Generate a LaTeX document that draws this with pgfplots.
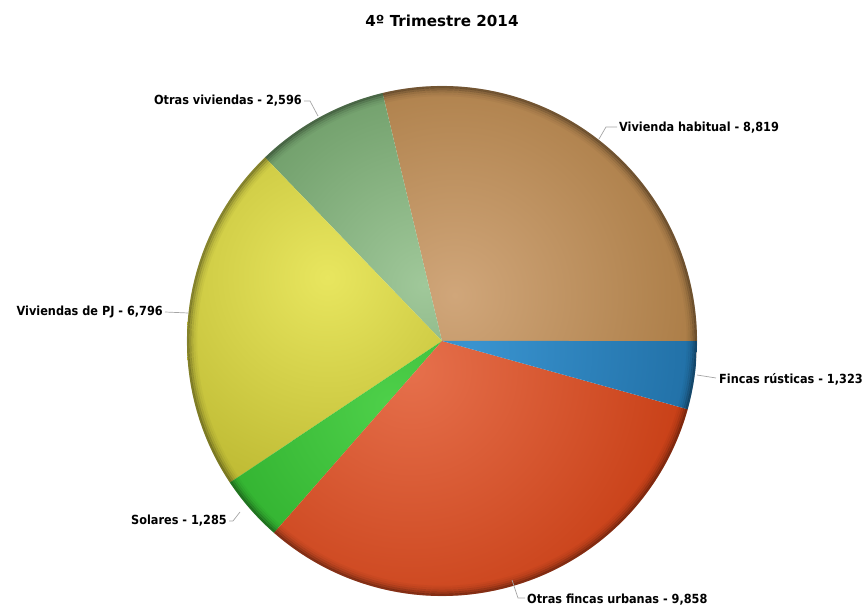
\documentclass[border=0pt]{standalone}
\usepackage{pgfplots}
\pgfplotsset{compat=1.18}
\usepackage{fontspec}
\setmainfont{DejaVu Sans}
\newfontfamily\lab{DejaVu Sans Condensed}
\definecolor{brL}{RGB}{208,166,122}
\definecolor{brD}{RGB}{158,110,52}
\definecolor{ggL}{RGB}{160,200,154}
\definecolor{ggD}{RGB}{84,134,78}
\definecolor{yeL}{RGB}{232,230,95}
\definecolor{yeD}{RGB}{170,165,30}
\definecolor{soL}{RGB}{78,208,74}
\definecolor{soD}{RGB}{28,155,28}
\definecolor{reL}{RGB}{230,112,76}
\definecolor{reD}{RGB}{194,54,12}
\definecolor{blL}{RGB}{58,148,208}
\definecolor{blD}{RGB}{22,96,148}
\definecolor{lead}{RGB}{165,165,165}
% values
\def\vA{8819}  % Vivienda habitual
\def\vB{2596}  % Otras viviendas
\def\vC{6796}  % Viviendas de PJ
\def\vD{1285}  % Solares
\def\vE{9858}  % Otras fincas urbanas
\def\vF{1323}  % Fincas rusticas
\pgfmathsetmacro\tot{\vA/1000+\vB/1000+\vC/1000+\vD/1000+\vE/1000+\vF/1000}
\pgfmathsetmacro\aA{0}
\pgfmathsetmacro\aB{\aA+\vA/1000/\tot*360}
\pgfmathsetmacro\aC{\aB+\vB/1000/\tot*360}
\pgfmathsetmacro\aD{\aC+\vC/1000/\tot*360}
\pgfmathsetmacro\aE{\aD+\vD/1000/\tot*360}
\pgfmathsetmacro\aF{\aE+\vE/1000/\tot*360}
\pgfmathsetmacro\aG{360}
% start, end, light, dark, shading box xa ya xb yb
\newcommand\pieWedge[8]{%
  \addplot[draw=none, shade, inner color=#3, outer color=#4, domain=#1:#2, samples=90, variable=\t]
    ({cos(t)},{sin(t)}) -- (axis cs:0,0) -- cycle (axis cs:#5,#6) (axis cs:#7,#8);}
\begin{document}
\begin{tikzpicture}
\path[use as bounding box] (0,0) rectangle (867bp,610bp);
\begin{axis}[at={(442bp,269bp)}, anchor=center, scale only axis,
  width=510bp, height=510bp, xmin=-1, xmax=1, ymin=-1, ymax=1, hide axis, clip=false]
\pieWedge{\aA}{\aB}{brL}{brD}{-1.25}{-1.12}{1.35}{1.48}
\pieWedge{\aB}{\aC}{ggL}{ggD}{-1.37}{-1.08}{1.23}{1.52}
\pieWedge{\aC}{\aD}{yeL}{yeD}{-1.75}{-1.05}{0.85}{1.55}
\pieWedge{\aD}{\aE}{soL}{soD}{-1.5}{-1.55}{1.1}{1.05}
\pieWedge{\aE}{\aF}{reL}{reD}{-1.42}{-1.41}{1.18}{1.19}
\pieWedge{\aF}{\aG}{blL}{blD}{-1.2}{-1.34}{1.4}{1.26}
\addplot[draw=black, opacity=0.35, line width=2.2bp, domain=0:360, samples=181, variable=\t] ({0.996*cos(t)},{0.996*sin(t)});
\addplot[draw=black, opacity=0.24, line width=2.2bp, domain=0:360, samples=181, variable=\t] ({0.988*cos(t)},{0.988*sin(t)});
\addplot[draw=black, opacity=0.14, line width=2.2bp, domain=0:360, samples=181, variable=\t] ({0.980*cos(t)},{0.980*sin(t)});
\addplot[draw=black, opacity=0.07, line width=2.2bp, domain=0:360, samples=181, variable=\t] ({0.972*cos(t)},{0.972*sin(t)});
\addplot[draw=black, opacity=0.03, line width=2.2bp, domain=0:360, samples=181, variable=\t] ({0.964*cos(t)},{0.964*sin(t)});
\end{axis}
\begin{scope}[x=1bp, y=-1bp, yshift=610bp, font=\lab\bfseries\fontsize{12.6}{15}\selectfont]
\node[font=\bfseries\fontsize{15.2}{17}\selectfont] at (442,21) {4º Trimestre 2014};
\draw[lead, line width=0.7bp] (599,139) -- (606,127) -- (617,127);
\node[anchor=west, inner sep=0pt] at (619,128) {Vivienda habitual - 8,819};
\draw[lead, line width=0.7bp] (318,116) -- (310,101) -- (304,101);
\node[anchor=east, inner sep=0pt] at (302,101) {Otras viviendas - 2,596};
\draw[lead, line width=0.7bp] (188,313) -- (165,312);
\node[anchor=east, inner sep=0pt] at (163,312) {Viviendas de PJ - 6,796};
\draw[lead, line width=0.7bp] (240,512) -- (233,521) -- (229,521);
\node[anchor=east, inner sep=0pt] at (227,521) {Solares - 1,285};
\draw[lead, line width=0.7bp] (512,580) -- (518,598) -- (525,598);
\node[anchor=west, inner sep=0pt] at (527,600) {Otras fincas urbanas - 9,858};
\draw[lead, line width=0.7bp] (697,375) -- (716,378);
\node[anchor=west, inner sep=0pt] at (719,379) {Fincas rústicas - 1,323};
\end{scope}
\end{tikzpicture}
\end{document}
